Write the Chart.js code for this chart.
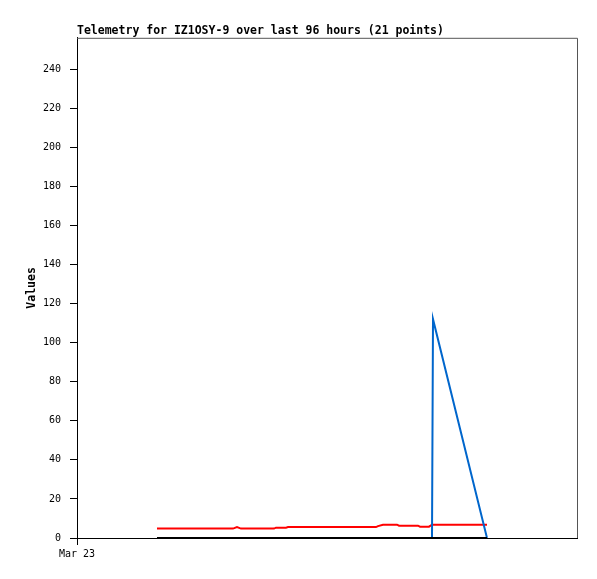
<!DOCTYPE html>
<html lang="en">
<head>
  <meta charset="UTF-8">
  <title>Telemetry for IZ1OSY-9</title>
  <script src="https://cdn.jsdelivr.net/npm/chart.js"></script>
  <style>
    body {
      margin: 0;
      background-color: #ffffff;
    }
    #telemetryChart {
      display: block;
    }
  </style>
</head>
<body>
  <canvas id="telemetryChart" width="597" height="579"></canvas>

  <script>
    // Hours since Mar 23 00:00 for each of the 21 telemetry points
    const hours = [16, 23.6, 31.2, 32, 32.8, 39.4, 39.8, 41.8, 42.2, 50.6, 59.8,
                   60.2, 61.2, 64, 64.4, 68.2, 68.6, 70.4, 71, 71.2, 82];
    const redValues = [4.8, 4.8, 4.8, 5.6, 4.8, 4.8, 5.3, 5.3, 5.6, 5.6, 5.6,
                       6.1, 6.8, 6.8, 6.3, 6.3, 5.8, 5.8, 6.8, 6.8, 6.8];
    const blueValues = [0, 0, 0, 0, 0, 0, 0, 0, 0, 0, 0,
                        0, 0, 0, 0, 0, 0, 0, 0, 112, 0];
    const blackValues = [0, 0, 0, 0, 0, 0, 0, 0, 0, 0, 0,
                         0, 0, 0, 0, 0, 0, 0, 0, 0, 0];
    const xTickValues = [0];
    const xTickLabels = ['Mar 23'];

    const toPoints = vals => vals.map((v, i) => ({ x: hours[i], y: v }));

    Chart.defaults.font.family = "'DejaVu Sans Mono', 'Liberation Mono', monospace";
    Chart.defaults.color = '#000';

    // thin grey frame on the top and right of the plot
    const frame = {
      id: 'frame',
      afterDraw(chart) {
        const { ctx, chartArea: a } = chart;
        ctx.save();
        ctx.strokeStyle = '#555';
        ctx.lineWidth = 1;
        ctx.beginPath();
        ctx.moveTo(a.left, a.top + 0.5);
        ctx.lineTo(a.right + 0.5, a.top + 0.5);
        ctx.lineTo(a.right + 0.5, a.bottom);
        ctx.stroke();
        ctx.restore();
      }
    };

    const ctx = document.getElementById('telemetryChart').getContext('2d');
    new Chart(ctx, {
      type: 'line',
      data: {
        datasets: [
          { data: toPoints(blackValues), borderColor: '#000000', borderWidth: 2 },
          { data: toPoints(blueValues), borderColor: '#0066cc', borderWidth: 2 },
          { data: toPoints(redValues), borderColor: '#ff0000', borderWidth: 2 }
        ]
      },
      options: {
        responsive: false,
        animation: false,
        elements: { point: { radius: 0 }, line: { tension: 0 } },
        layout: { padding: { left: 0, right: 20, top: 0, bottom: 0 } },
        plugins: {
          legend: { display: false },
          tooltip: { enabled: false },
          title: {
            display: true,
            text: 'Telemetry for IZ1OSY-9 over last 96 hours (21 points)',
            align: 'start',
            fullSize: false,
            color: '#000',
            font: { size: 11.5, weight: 'bold' },
            padding: { top: 24, bottom: 0 }
          }
        },
        scales: {
          x: {
            type: 'linear',
            min: 0,
            max: 100,
            afterBuildTicks: scale => {
              scale.ticks = xTickValues.map(v => ({ value: v }));
            },
            afterFit: scale => { scale.height = 41; },
            ticks: {
              callback: (v) => xTickLabels[xTickValues.indexOf(v)],
              font: { size: 10 },
              padding: 3,
              maxRotation: 0
            },
            grid: { drawOnChartArea: false, tickLength: 7, color: '#000' },
            border: { color: '#000', width: 1 }
          },
          y: {
            min: 0,
            max: 256,
            afterFit: scale => { scale.width = 77; },
            ticks: { stepSize: 20, includeBounds: false, font: { size: 10 }, padding: 9 },
            grid: { drawOnChartArea: false, tickLength: 7, color: '#000' },
            border: { color: '#000', width: 1 },
            title: {
              display: true,
              text: 'Values',
              font: { size: 11.5, weight: 'bold' },
              padding: { top: 25, bottom: 0 }
            }
          }
        }
      },
      plugins: [frame]
    });
  </script>
</body>
</html>
